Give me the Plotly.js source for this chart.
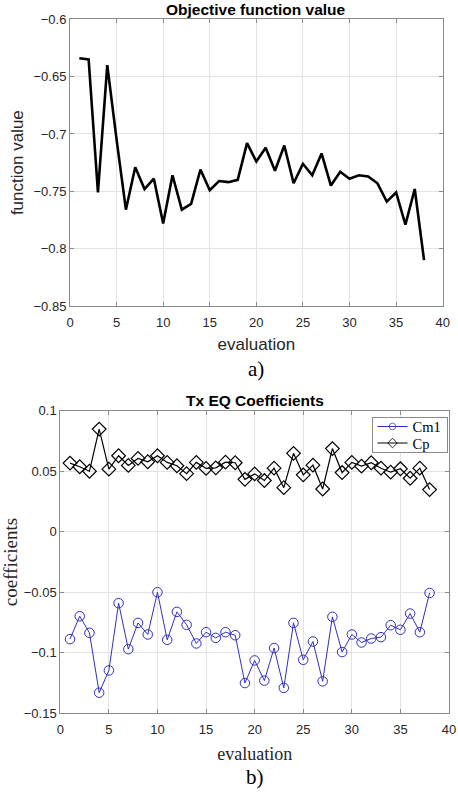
<!DOCTYPE html>
<html>
<head>
<meta charset="utf-8">
<script src="https://cdn.plot.ly/plotly-3.0.1.min.js"></script>
<style>html,body{margin:0;padding:0;background:#fff;}#chart{width:458px;height:793px;}</style>
</head>
<body>
<div id="chart"></div>
<script>
// ---- data ----
const evaluations = [1,2,3,4,5,6,7,8,9,10,11,12,13,14,15,16,17,18,19,20,21,22,23,24,25,26,27,28,29,30,31,32,33,34,35,36,37,38];
const objectiveValue = [-0.634,-0.635,-0.751,-0.640,-0.705,-0.766,-0.729,-0.748,-0.739,-0.778,-0.736,-0.766,-0.761,-0.731,-0.749,-0.741,-0.742,-0.740,-0.708,-0.724,-0.712,-0.732,-0.710,-0.743,-0.726,-0.736,-0.717,-0.745,-0.733,-0.739,-0.736,-0.737,-0.743,-0.759,-0.751,-0.779,-0.748,-0.810];
const cm1 = [-0.0887,-0.0698,-0.0835,-0.133,-0.1146,-0.059,-0.097,-0.0753,-0.0849,-0.050,-0.0893,-0.0662,-0.0769,-0.0923,-0.083,-0.0877,-0.083,-0.0855,-0.125,-0.1063,-0.123,-0.0961,-0.129,-0.0753,-0.1058,-0.0907,-0.1236,-0.0703,-0.0994,-0.0849,-0.0915,-0.0882,-0.0871,-0.0772,-0.081,-0.0676,-0.083,-0.0506];
const cp = [0.0567,0.0537,0.050,0.0848,0.0517,0.0628,0.0548,0.0606,0.0578,0.0628,0.0573,0.0545,0.048,0.0573,0.0523,0.0528,0.0575,0.057,0.0433,0.0478,0.0423,0.0525,0.0364,0.0648,0.047,0.055,0.0353,0.0687,0.0489,0.0573,0.0542,0.057,0.0525,0.0492,0.052,0.0442,0.0525,0.0348];
const xTicks = [0,5,10,15,20,25,30,35,40];
const yTicksTop = [-0.85,-0.8,-0.75,-0.7,-0.65,-0.6];
const yTicksBottom = [-0.15,-0.1,-0.05,0,0.05,0.1];

const W = 458, H = 793;
const sans = "Liberation Sans, Arial, sans-serif";
const serif = "Liberation Serif, Times New Roman, serif";
const botRight = 449;

function ax(extra){
  return Object.assign({
    showline:true, linecolor:'#8a8a8a', linewidth:1, mirror:'ticks',
    ticks:'inside', ticklen:4, tickcolor:'#8a8a8a',
    showgrid:true, gridcolor:'#e3e3e3', gridwidth:1, zeroline:false,
    tickfont:{family:sans, size:13, color:'#262626'}
  }, extra);
}

const traces = [
  {x:evaluations, y:objectiveValue, xaxis:'x', yaxis:'y', mode:'lines', type:'scatter',
   line:{color:'#000', width:2.6}, showlegend:false},
  {x:evaluations, y:cm1, xaxis:'x2', yaxis:'y2', mode:'lines+markers', type:'scatter', name:'Cm1',
   line:{color:'#3030bb', width:1}, marker:{symbol:'circle-open', size:9.5, color:'#3030bb', line:{width:1}}},
  {x:evaluations, y:cp, xaxis:'x2', yaxis:'y2', mode:'lines+markers', type:'scatter', name:'Cp',
   line:{color:'#000', width:1.2}, marker:{symbol:'diamond-open', size:10.5, color:'#000', line:{width:1.2}}}
];

const layout = {
  width:W, height:H, margin:{l:0,r:0,t:0,b:0},
  paper_bgcolor:'#fff', plot_bgcolor:'#fff',
  xaxis: ax({domain:[70/W, 442.7/W], range:[0,40.001], tickvals:xTicks, anchor:'y', ticklabelstandoff:4,
     ticklabeloverflow:'allow',
     title:{text:'evaluation', font:{family:sans, size:17, color:'#262626'}, standoff:9}}),
  yaxis: ax({domain:[1-306/H, 1-19.3/H], range:[-0.85,-0.6], tickvals:yTicksTop, anchor:'x',
     title:{text:'function value', font:{family:sans, size:17, color:'#262626'}, standoff:5}}),
  xaxis2: ax({domain:[60.3/W, botRight/W], range:[0,40.001], tickvals:xTicks, anchor:'y2', ticklabelstandoff:4,
     ticklabeloverflow:'allow',
     title:{text:'evaluation', font:{family:serif, size:18, color:'#262626'}, standoff:11}}),
  yaxis2: ax({domain:[1-713.3/H, 1-410.7/H], range:[-0.15,0.1], tickvals:yTicksBottom, anchor:'x2',
     title:{text:'coefficients', font:{family:serif, size:19, color:'#262626'}, standoff:8}}),
  showlegend:true,
  legend:{x:(botRight-1.5)/W, y:1-417/H, xanchor:'right', yanchor:'top', bgcolor:'#fff',
     bordercolor:'#8a8a8a', borderwidth:1, font:{family:serif, size:14.5, color:'#000'},
     tracegroupgap:0, itemwidth:30},
  annotations:[
    {text:'<b>Objective function value</b>', xref:'paper', yref:'paper', x:(70+442.7)/2/W, y:1-9.5/H,
     showarrow:false, font:{family:sans, size:15.5, color:'#000'}, xanchor:'center', yanchor:'middle'},
    {text:'<b>Tx EQ Coefficients</b>', xref:'paper', yref:'paper', x:(60.3+botRight)/2/W, y:1-400.5/H,
     showarrow:false, font:{family:sans, size:15.5, color:'#000'}, xanchor:'center', yanchor:'middle'},
    {text:'a)', xref:'paper', yref:'paper', x:(70+442.7)/2/W, y:1-369/H,
     showarrow:false, font:{family:serif, size:21, color:'#000'}, xanchor:'center', yanchor:'middle'},
    {text:'b)', xref:'paper', yref:'paper', x:(60.3+botRight)/2/W, y:1-777/H,
     showarrow:false, font:{family:serif, size:21, color:'#000'}, xanchor:'center', yanchor:'middle'}
  ]
};

Plotly.newPlot('chart', traces, layout, {staticPlot:true, displayModeBar:false}).then(function(gd){
  // compact the legend rows like the MATLAB legend
  var leg = gd.querySelector('.legend');
  if(!leg) return;
  var items = leg.querySelectorAll('.traces');
  var rowGap = 16.5, top = 9.5;
  items.forEach(function(t, i){
    var tr = t.getAttribute('transform') || '';
    var m = /translate\(\s*([-\d.]+)/.exec(tr);
    var x0 = m ? parseFloat(m[1]) : 0;
    t.setAttribute('transform', 'translate(' + x0 + ',' + (top + i*rowGap) + ')');
  });
  leg.querySelectorAll('.legendpoints path').forEach(function(p){
    var tr = p.getAttribute('transform') || '';
    if(p.classList.contains('scatterpts')) p.setAttribute('transform', tr + ' scale(0.7)');
  });
  var bg = leg.querySelector('.bg');
  if(bg) bg.setAttribute('height', top + rowGap*(items.length-1) + 9);
});
</script>
</body>
</html>
